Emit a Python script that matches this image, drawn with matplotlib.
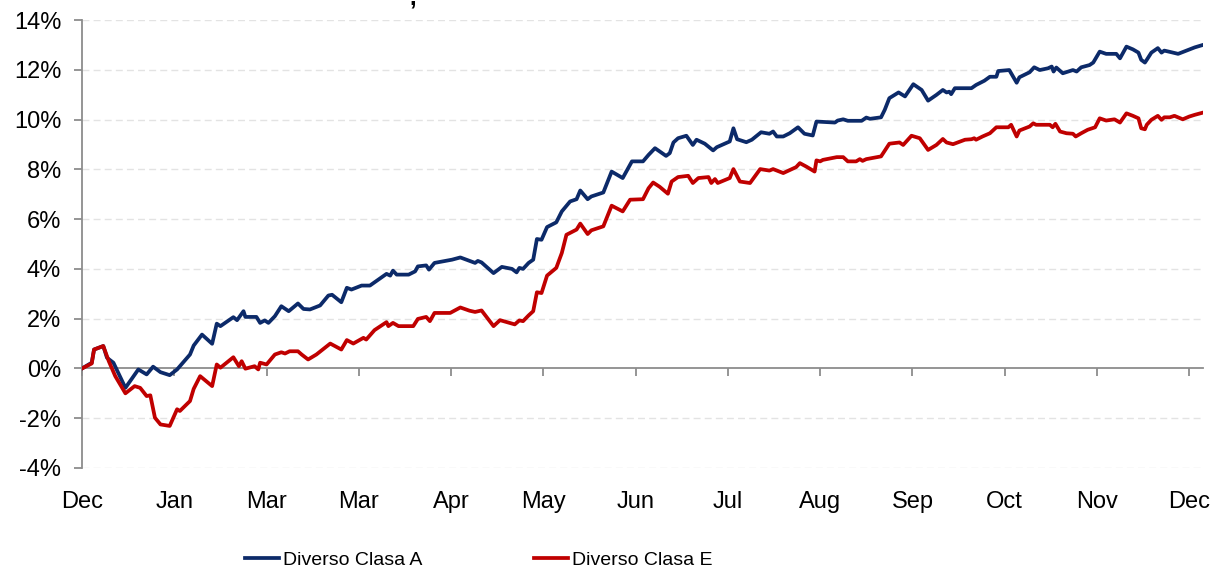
import matplotlib
matplotlib.use("Agg")
import matplotlib.pyplot as plt
from matplotlib.ticker import PercentFormatter

plt.rcParams["font.family"] = ["Liberation Sans", "DejaVu Sans"]
plt.rcParams["axes.unicode_minus"] = False

# etiquetas del eje x (una por marca mensual)
meses = ["Dec", "Jan", "Mar", "Mar", "Apr", "May", "Jun", "Jul", "Aug",
         "Sep", "Oct", "Nov", "Dec"]

# Diverso Clasa A: posicion (en meses desde el inicio) y rentabilidad acumulada (%)
x_clase_a = [0.00, 0.105, 0.13, 0.23, 0.27, 0.34, 0.47, 0.61, 0.70, 0.77, 0.85, 0.95,
             1.03, 1.17, 1.21, 1.30, 1.41, 1.46, 1.50, 1.64, 1.68, 1.75, 1.77, 1.89,
             1.93, 1.98, 2.02, 2.09, 2.16, 2.24, 2.34, 2.40, 2.47, 2.58, 2.67, 2.71,
             2.81, 2.87, 2.92, 3.03, 3.12, 3.30, 3.34, 3.37, 3.41, 3.54, 3.61, 3.64,
             3.73, 3.76, 3.82, 4.01, 4.10, 4.20, 4.26, 4.29, 4.33, 4.46, 4.55, 4.66,
             4.71, 4.74, 4.78, 4.84, 4.89, 4.93, 4.98, 5.04, 5.14, 5.20, 5.29, 5.36,
             5.40, 5.48, 5.52, 5.65, 5.74, 5.86, 5.96, 6.08, 6.14, 6.21, 6.33, 6.37,
             6.41, 6.46, 6.55, 6.62, 6.66, 6.75, 6.84, 6.88, 7.02, 7.06, 7.10, 7.20,
             7.26, 7.36, 7.45, 7.49, 7.53, 7.60, 7.67, 7.76, 7.83, 7.92, 7.96, 8.16,
             8.19, 8.25, 8.30, 8.45, 8.50, 8.54, 8.66, 8.70, 8.75, 8.85, 8.92, 9.01,
             9.10, 9.17, 9.26, 9.33, 9.37, 9.40, 9.42, 9.46, 9.64, 9.69, 9.78, 9.84,
             9.91, 9.93, 10.05, 10.13, 10.16, 10.27, 10.32, 10.38, 10.47, 10.51, 10.53,
             10.56, 10.63, 10.74, 10.78, 10.83, 10.92, 10.96, 11.03, 11.10, 11.21,
             11.25, 11.32, 11.39, 11.45, 11.48, 11.52, 11.54, 11.59, 11.66, 11.70,
             11.73, 11.79, 11.88, 11.97, 12.06, 12.15]
clase_a = [0.00, 0.23, 0.76, 0.90, 0.43, 0.23, -0.78, -0.04, -0.24, 0.07, -0.15, -0.27,
           -0.04, 0.56, 0.92, 1.36, 0.99, 1.80, 1.70, 2.06, 1.94, 2.30, 2.07, 2.07,
           1.83, 1.93, 1.83, 2.10, 2.50, 2.30, 2.61, 2.39, 2.37, 2.53, 2.93, 2.96,
           2.66, 3.24, 3.17, 3.33, 3.33, 3.80, 3.73, 3.93, 3.77, 3.77, 3.90, 4.10,
           4.14, 3.97, 4.24, 4.37, 4.46, 4.32, 4.24, 4.32, 4.26, 3.83, 4.08, 4.00,
           3.86, 4.04, 4.00, 4.24, 4.37, 5.20, 5.17, 5.68, 5.87, 6.31, 6.71, 6.80,
           7.15, 6.80, 6.91, 7.07, 7.91, 7.65, 8.32, 8.32, 8.58, 8.85, 8.54, 8.65,
           9.08, 9.25, 9.35, 8.98, 9.19, 9.03, 8.76, 8.89, 9.12, 9.65, 9.21, 9.09,
           9.19, 9.49, 9.43, 9.52, 9.32, 9.32, 9.45, 9.69, 9.43, 9.36, 9.92, 9.88,
           9.96, 10.01, 9.95, 9.95, 10.08, 10.03, 10.09, 10.39, 10.86, 11.09, 10.93, 11.42,
           11.19, 10.76, 10.99, 11.19, 11.09, 11.12, 11.02, 11.26, 11.26, 11.39, 11.56, 11.72,
           11.72, 11.95, 11.99, 11.48, 11.70, 11.90, 12.10, 11.99, 12.06, 12.13, 11.93,
           12.09, 11.86, 11.99, 11.93, 12.10, 12.19, 12.29, 12.73, 12.64, 12.64,
           12.46, 12.93, 12.82, 12.69, 12.40, 12.29, 12.40, 12.69, 12.87, 12.69,
           12.77, 12.72, 12.64, 12.77, 12.90, 13.00]

# Diverso Clasa E
x_clase_e = [0.00, 0.105, 0.13, 0.23, 0.29, 0.36, 0.47, 0.57, 0.63, 0.70, 0.74, 0.79,
             0.85, 0.95, 1.03, 1.06, 1.17, 1.21, 1.28, 1.41, 1.46, 1.50, 1.64, 1.70,
             1.73, 1.77, 1.87, 1.91, 1.93, 2.00, 2.09, 2.16, 2.20, 2.25, 2.34, 2.38,
             2.45, 2.54, 2.69, 2.81, 2.87, 2.94, 3.05, 3.08, 3.17, 3.30, 3.32, 3.37,
             3.43, 3.59, 3.64, 3.73, 3.77, 3.82, 3.99, 4.10, 4.20, 4.26, 4.33, 4.46,
             4.53, 4.69, 4.74, 4.78, 4.84, 4.89, 4.93, 4.98, 5.04, 5.14, 5.20, 5.25,
             5.36, 5.40, 5.48, 5.52, 5.65, 5.74, 5.86, 5.94, 6.08, 6.14, 6.19, 6.26,
             6.35, 6.39, 6.46, 6.57, 6.62, 6.68, 6.79, 6.82, 6.86, 6.89, 7.02, 7.06,
             7.13, 7.24, 7.35, 7.45, 7.49, 7.60, 7.74, 7.78, 7.85, 7.94, 7.96, 8.00,
             8.03, 8.18, 8.25, 8.30, 8.39, 8.43, 8.46, 8.50, 8.66, 8.75, 8.86, 8.90,
             8.99, 9.08, 9.17, 9.26, 9.33, 9.37, 9.44, 9.57, 9.64, 9.67, 9.69, 9.76,
             9.84, 9.91, 10.04, 10.07, 10.13, 10.16, 10.27, 10.31, 10.34, 10.49, 10.52,
             10.55, 10.60, 10.67, 10.74, 10.77, 10.83, 10.90, 10.98, 11.03, 11.10,
             11.19, 11.25, 11.32, 11.39, 11.45, 11.48, 11.52, 11.54, 11.59, 11.66,
             11.70, 11.73, 11.79, 11.84, 11.93, 12.00, 12.06, 12.15]
clase_e = [0.00, 0.20, 0.76, 0.90, 0.29, -0.31, -1.00, -0.71, -0.78, -1.11, -1.08, -1.98,
           -2.25, -2.31, -1.64, -1.71, -1.31, -0.82, -0.31, -0.71, 0.16, 0.03, 0.45, 0.09,
           0.29, -0.01, 0.09, -0.04, 0.23, 0.16, 0.56, 0.65, 0.60, 0.69, 0.69, 0.56,
           0.36, 0.56, 1.00, 0.76, 1.14, 1.00, 1.23, 1.16, 1.54, 1.86, 1.70, 1.83,
           1.70, 1.70, 1.99, 2.07, 1.90, 2.23, 2.23, 2.45, 2.32, 2.27, 2.33, 1.70,
           1.94, 1.77, 1.93, 1.90, 2.13, 2.30, 3.06, 3.03, 3.73, 4.04, 4.64, 5.37,
           5.58, 5.82, 5.40, 5.55, 5.71, 6.54, 6.31, 6.78, 6.80, 7.24, 7.47, 7.30,
           7.02, 7.51, 7.69, 7.74, 7.45, 7.65, 7.69, 7.45, 7.61, 7.45, 7.65, 8.01,
           7.51, 7.45, 8.01, 7.95, 8.01, 7.85, 8.09, 8.25, 8.11, 7.91, 8.36, 8.32,
           8.38, 8.49, 8.49, 8.32, 8.32, 8.41, 8.34, 8.41, 8.52, 9.03, 9.08, 8.98,
           9.35, 9.25, 8.78, 8.98, 9.22, 9.08, 9.01, 9.19, 9.21, 9.25, 9.19, 9.32,
           9.45, 9.69, 9.69, 9.79, 9.32, 9.56, 9.72, 9.85, 9.79, 9.79, 9.69,
           9.83, 9.52, 9.45, 9.43, 9.32, 9.45, 9.59, 9.69, 10.05, 9.96,
           10.01, 9.88, 10.25, 10.15, 10.05, 9.65, 9.61, 9.79, 9.99, 10.15,
           9.99, 10.09, 10.09, 10.15, 10.01, 10.12, 10.19, 10.28]

AZUL = "#0c2a69"
ROJO = "#c00000"

fig = plt.figure(figsize=(12.12, 5.75), dpi=100)
ax = fig.add_axes([0.0677, 0.1861, 0.9249, 0.7791])

ax.plot(x_clase_a, clase_a, color=AZUL, lw=2.7, label="Diverso Clasa A", zorder=3)
ax.plot(x_clase_e, clase_e, color=ROJO, lw=2.7, label="Diverso Clasa E", zorder=4)

ax.set_xlim(0, 12.15)
ax.set_ylim(-4, 14)
ax.set_yticks(range(-4, 15, 2))
ax.yaxis.set_major_formatter(PercentFormatter(decimals=0))
ax.set_xticks(range(len(meses)))
ax.set_xticklabels(meses)

# rejilla discontinua
for y in range(-4, 15, 2):
    if y != 0:
        ax.axhline(y, color="#e3e3e3", lw=1.0, ls=(0, (5, 3)), zorder=1)

for s in ("top", "right"):
    ax.spines[s].set_visible(False)
ax.spines["left"].set_color("#8c8c8c")
ax.spines["left"].set_linewidth(1.3)
ax.spines["bottom"].set_position(("data", 0))
ax.spines["bottom"].set_color("#8c8c8c")
ax.spines["bottom"].set_linewidth(1.3)
ax.spines["bottom"].set_zorder(2)

ax.tick_params(axis="y", direction="out", length=6, width=1.3, color="#8c8c8c",
               pad=9, labelsize=17)
ax.tick_params(axis="x", direction="out", length=6, width=1.3, color="#8c8c8c",
               pad=82, labelsize=17)

# resto del titulo (cortado en el original)
fig.text(413 / 1212, 1 - 5 / 575, ",", fontsize=17, fontweight="bold",
         ha="center", va="baseline")

fig.legend(loc="center", bbox_to_anchor=(0.395, 0.026), ncol=2, frameon=False,
           fontsize=14, handlelength=1.75, handletextpad=0.2, columnspacing=5.7)

fig.savefig("out.png", dpi=100)
